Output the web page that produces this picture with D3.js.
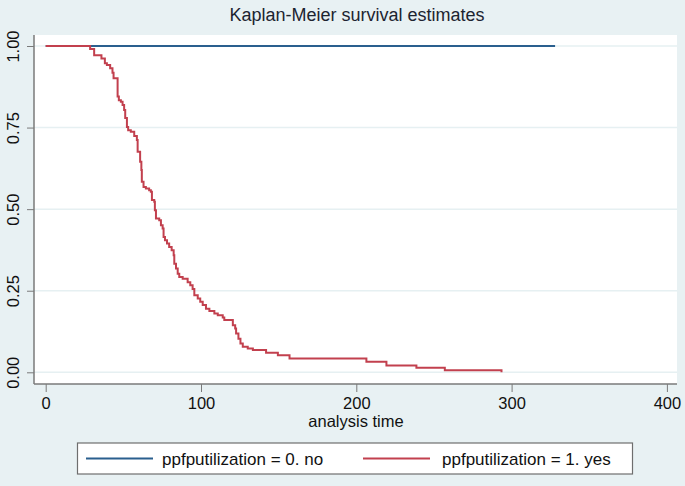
<!DOCTYPE html>
<html>
<head>
<meta charset="utf-8">
<script src="https://cdn.jsdelivr.net/npm/d3@7"></script>
<style>
  body { margin: 0; background: #e8f1f3; }
  svg { display: block; font-family: "Liberation Sans", Arial, sans-serif; }
</style>
</head>
<body>
<svg id="chart" width="685" height="486"></svg>
<script>
// step times (analysis time) and survival after each step, group ppfputilization = 1
var yesTimes = [0, 28.6, 31.2, 35.9, 38.1, 39.4, 41.5, 43.0, 43.7, 46.3, 47.1, 48.4, 49.5, 50.5, 51.2,
  52.3, 53.1, 54.8, 57.0, 58.7, 59.2, 60.8, 61.6, 61.9, 63.0, 64.5, 66.6, 67.7, 68.4, 69.9,
  70.3, 71.0, 73.1, 74.2, 75.3, 75.9, 76.8, 78.1, 79.5, 81.1, 82.4, 82.8, 83.9, 85.0, 86.0,
  88.2, 91.4, 93.1, 94.6, 95.7, 97.9, 99.5, 101.1, 103.2, 105.4, 108.6, 110.8, 114.0, 115.0,
  120.5, 122.0, 122.6, 124.1, 125.4, 126.9, 130.1, 133.4, 141.9, 149.5, 157.0, 206.5, 219.4,
  238.7, 257.0, 293.5];
var yesSurv = [1, 0.991, 0.972, 0.962, 0.947, 0.942, 0.932, 0.918, 0.901, 0.845, 0.834, 0.829, 0.819, 0.804, 0.779,
  0.752, 0.742, 0.737, 0.724, 0.712, 0.676, 0.645, 0.620, 0.584, 0.568, 0.563, 0.558, 0.553, 0.528, 0.523,
  0.497, 0.471, 0.466, 0.451, 0.441, 0.415, 0.405, 0.395, 0.384, 0.374, 0.359, 0.333, 0.318, 0.302, 0.292,
  0.287, 0.276, 0.267, 0.255, 0.236, 0.226, 0.216, 0.206, 0.195, 0.188, 0.180, 0.175, 0.168, 0.160,
  0.144, 0.134, 0.119, 0.103, 0.088, 0.078, 0.073, 0.068, 0.060, 0.052, 0.042, 0.032, 0.021,
  0.014, 0.006, 0.000];

// group ppfputilization = 0, no events
var noTimes = [0, 328];
var noSurv = [1, 1];

var xTicks = [0, 100, 200, 300, 400];
var yTicks = [0, 0.25, 0.5, 0.75, 1];
var legendLabels = ["ppfputilization = 0. no", "ppfputilization = 1. yes"];
var colors = ["#2a5f8e", "#c2404e"];

var svg = d3.select("#chart");

var x = d3.scaleLinear().domain([0, 400]).range([45.7, 666.9]);
var y = d3.scaleLinear().domain([0, 1]).range([372.3, 46]);

svg.append("rect").attr("width", 685).attr("height", 486).attr("fill", "#e8f1f3");

// plot region
svg.append("rect")
  .attr("x", 34).attr("y", 35)
  .attr("width", 643).attr("height", 349)
  .attr("fill", "#ffffff");

// gridlines
svg.selectAll(".grid").data(yTicks).enter().append("line")
  .attr("x1", 34).attr("x2", 677)
  .attr("y1", function(d){ return y(d); })
  .attr("y2", function(d){ return y(d); })
  .attr("stroke", "#e6f0f2")
  .attr("stroke-width", 1.5);

// title
svg.append("text")
  .attr("x", 357).attr("y", 21)
  .attr("text-anchor", "middle")
  .attr("font-size", 18)
  .attr("fill", "#1c2430")
  .text("Kaplan-Meier survival estimates");

// y axis
var yAxis = d3.axisLeft(y).tickValues(yTicks).tickSize(7)
  .tickFormat(d3.format(".2f"));
var gy = svg.append("g").attr("transform", "translate(34,0)").call(yAxis);
gy.select(".domain").attr("d", "M0,35V384").attr("stroke", "#7a7a7a").attr("stroke-width", 1.5);
gy.selectAll(".tick line").attr("stroke", "#7a7a7a");
gy.selectAll(".tick text")
  .attr("font-size", 16.5)
  .attr("fill", "#111")
  .attr("text-anchor", "middle")
  .attr("transform", "rotate(-90)")
  .attr("x", 0)
  .attr("y", -15)
  .attr("dy", 0);

// x axis
var xAxis = d3.axisBottom(x).tickValues(xTicks).tickSize(8).tickPadding(5);
var gx = svg.append("g").attr("transform", "translate(0,384)").call(xAxis);
gx.select(".domain").attr("d", "M34,0H677").attr("stroke", "#7a7a7a").attr("stroke-width", 1.5);
gx.selectAll(".tick line").attr("stroke", "#7a7a7a");
gx.selectAll(".tick text").attr("font-size", 16.5).attr("fill", "#111");

svg.append("text")
  .attr("x", 356).attr("y", 427)
  .attr("text-anchor", "middle")
  .attr("font-size", 16.5)
  .attr("fill", "#111")
  .text("analysis time");

// survival curves
var line = d3.line()
  .x(function(d){ return x(d[0]); })
  .y(function(d){ return y(d[1]); })
  .curve(d3.curveStepAfter);

var series = [d3.zip(noTimes, noSurv), d3.zip(yesTimes, yesSurv)];
series.forEach(function(s, i){
  svg.append("path")
    .datum(s)
    .attr("d", line)
    .attr("fill", "none")
    .attr("stroke", colors[i])
    .attr("stroke-width", 2);
});

// legend
var lg = svg.append("g");
lg.append("rect")
  .attr("x", 77.5).attr("y", 443)
  .attr("width", 555).attr("height", 31)
  .attr("fill", "#ffffff")
  .attr("stroke", "#6e6e6e")
  .attr("stroke-width", 1.2);
var sampleX = [86, 363];
var textX = [162, 442];
legendLabels.forEach(function(lab, i){
  lg.append("line")
    .attr("x1", sampleX[i]).attr("x2", sampleX[i] + 67)
    .attr("y1", 458.5).attr("y2", 458.5)
    .attr("stroke", colors[i]).attr("stroke-width", 2);
  lg.append("text")
    .attr("x", textX[i]).attr("y", 465)
    .attr("font-size", 17)
    .attr("fill", "#111")
    .text(lab);
});
</script>
</body>
</html>
